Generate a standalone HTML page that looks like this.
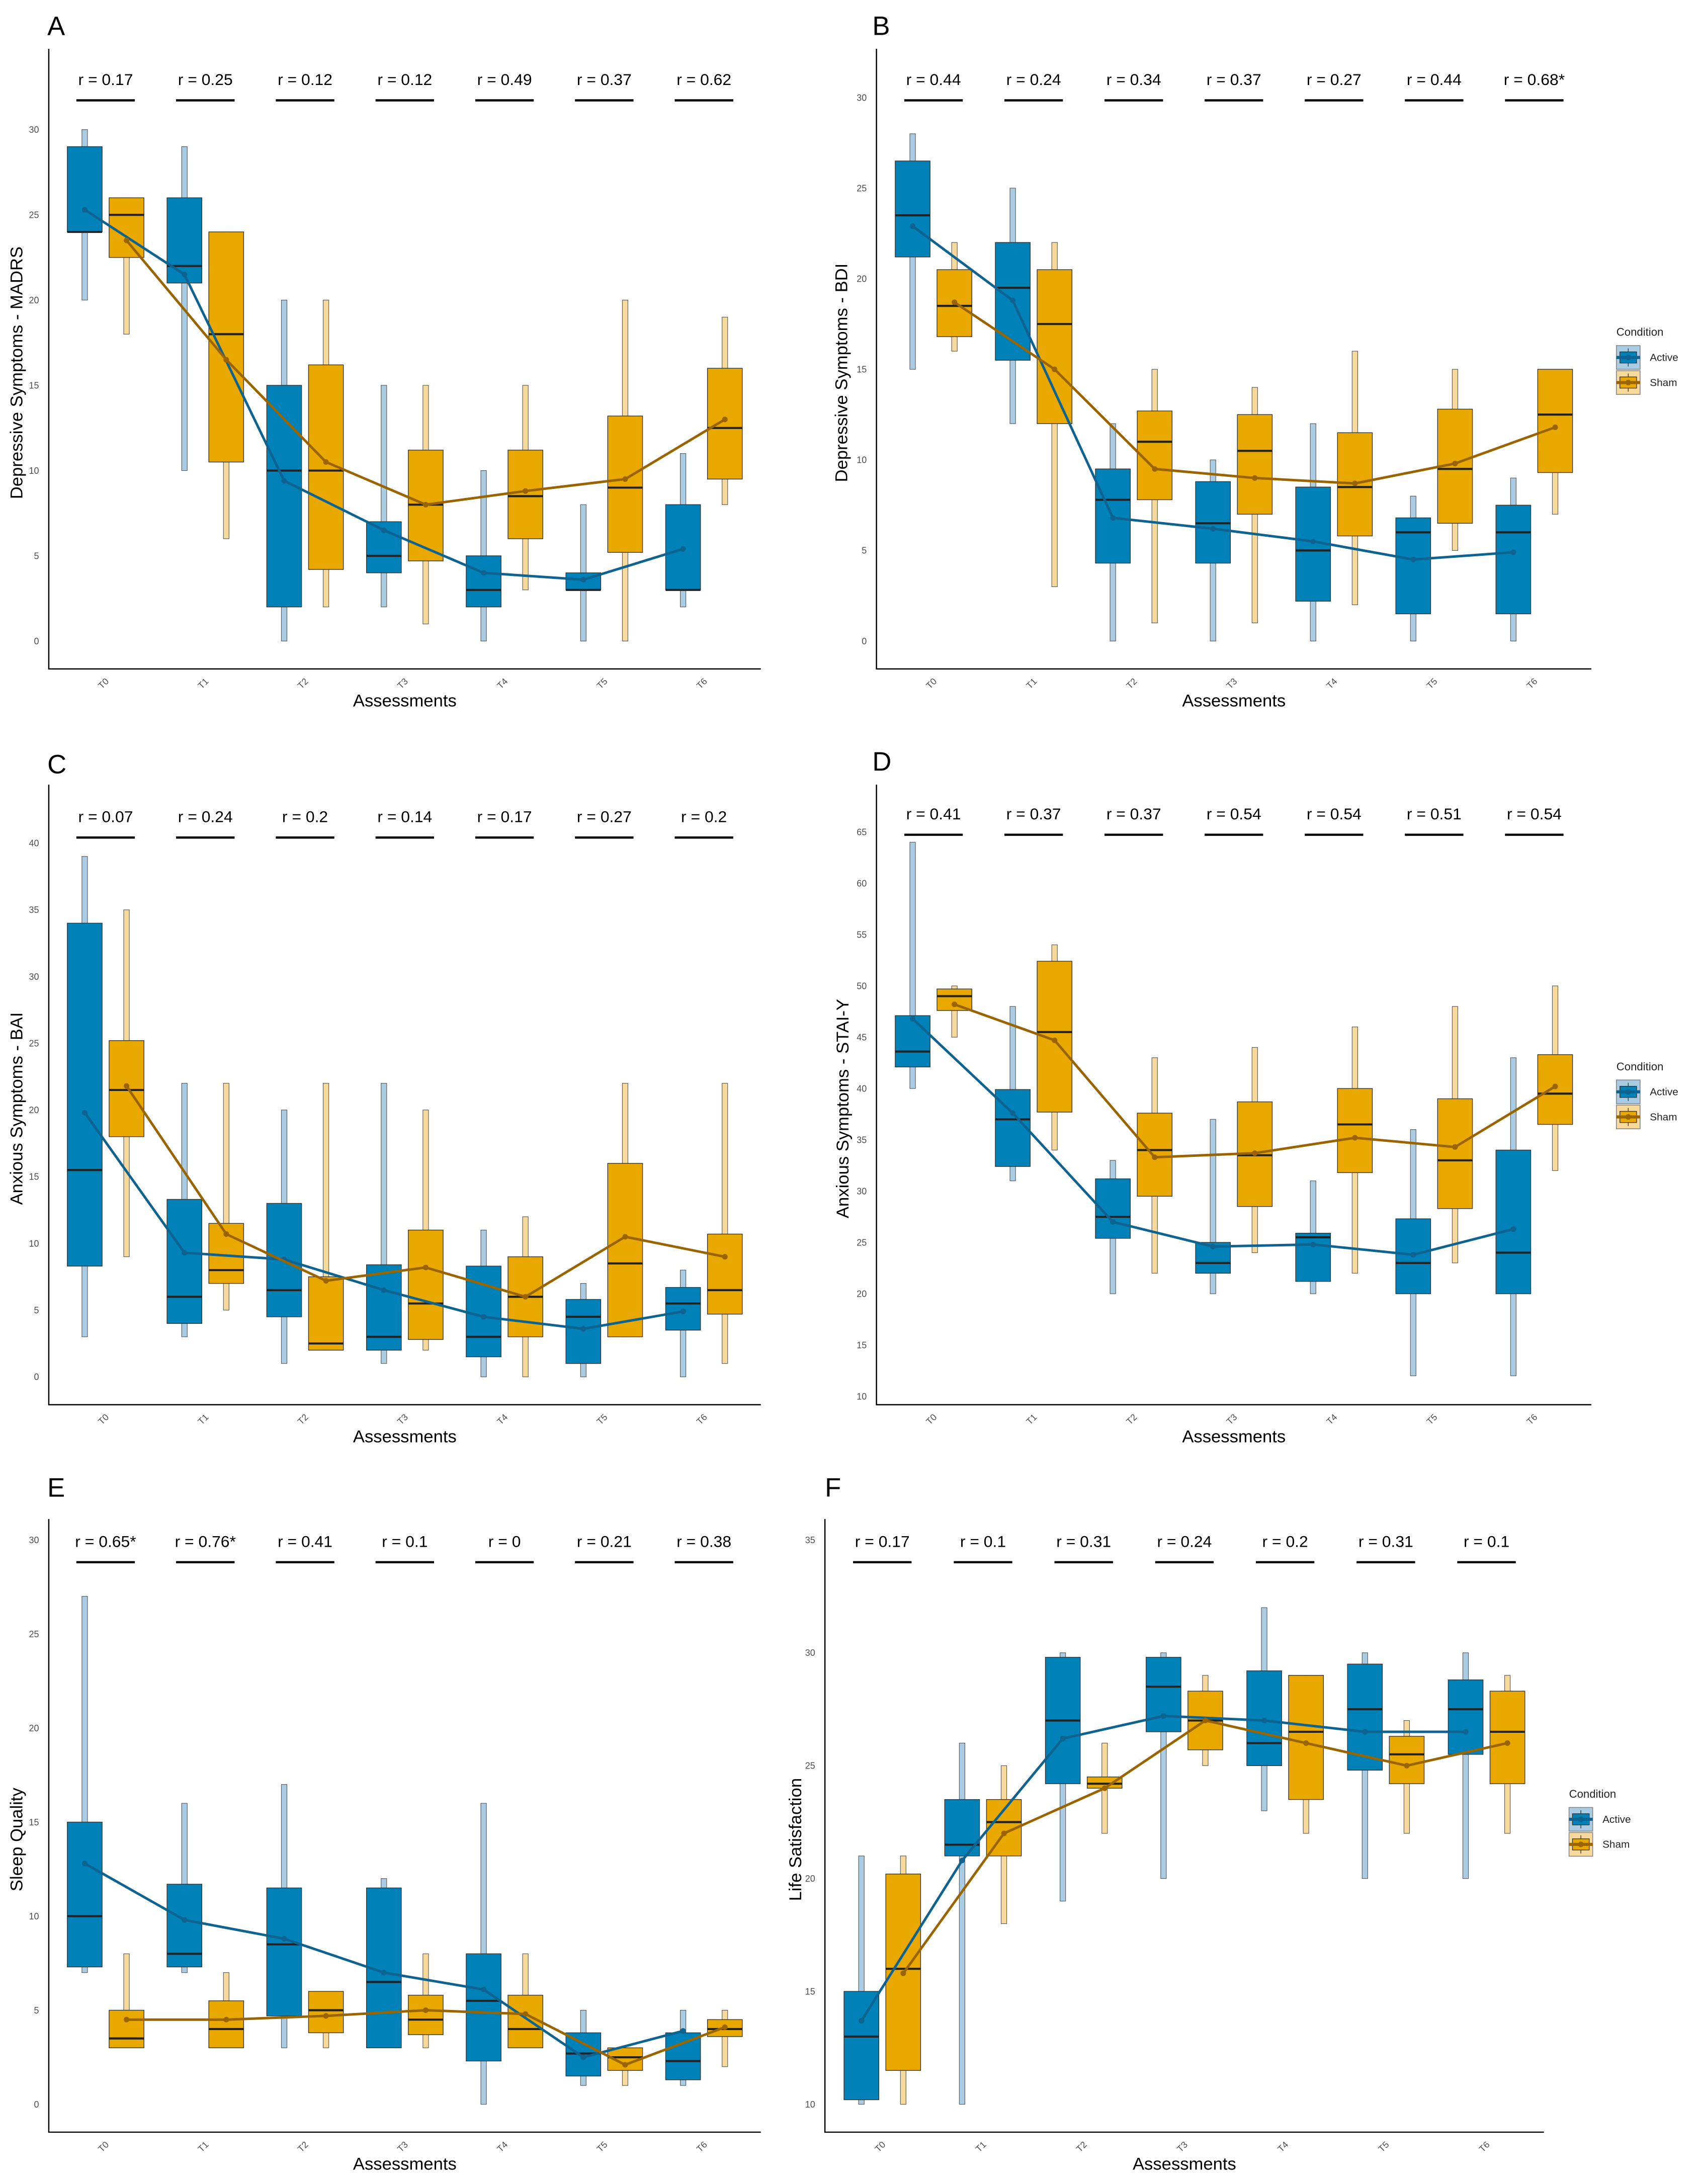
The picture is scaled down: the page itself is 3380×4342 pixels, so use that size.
<!DOCTYPE html>
<html><head><meta charset="utf-8"><style>
html,body{margin:0;padding:0;background:#fff;}
svg{display:block;font-family:"Liberation Sans",sans-serif;}
</style></head><body>
<svg id="fig" width="3380" height="4342" viewBox="0 0 1220 1567.2" preserveAspectRatio="none" xmlns="http://www.w3.org/2000/svg"></svg>
<script>
const cats = ["T0","T1","T2","T3","T4","T5","T6"];
// Panel A - MADRS
const aR = ["0.17","0.25","0.12","0.12","0.49","0.37","0.62"];
const aActBox = [[24,24,29],[21,22,26],[2,10,15],[4,5,7],[2,3,5],[3,3,4],[3,3,8]];
const aActVio = [[20,30],[10,29],[0,20],[2,15],[0,10],[0,8],[2,11]];
const aActMean = [25.3,21.5,9.4,6.5,4,3.6,5.4];
const aShBox = [[22.5,25,26],[10.5,18,24],[4.2,10,16.2],[4.7,8,11.2],[6,8.5,11.2],[5.2,9,13.2],[9.5,12.5,16]];
const aShVio = [[18,26],[6,24],[2,20],[1,15],[3,15],[0,20],[8,19]];
const aShMean = [23.5,16.5,10.5,8,8.8,9.5,13];
// Panel B - BDI
const bR = ["0.44","0.24","0.34","0.37","0.27","0.44","0.68*"];
const bActBox = [[21.2,23.5,26.5],[15.5,19.5,22],[4.3,7.8,9.5],[4.3,6.5,8.8],[2.2,5,8.5],[1.5,6,6.8],[1.5,6,7.5]];
const bActVio = [[15,28],[12,25],[0,12],[0,10],[0,12],[0,8],[0,9]];
const bActMean = [22.9,18.8,6.8,6.2,5.5,4.5,4.9];
const bShBox = [[16.8,18.5,20.5],[12,17.5,20.5],[7.8,11,12.7],[7,10.5,12.5],[5.8,8.5,11.5],[6.5,9.5,12.8],[9.3,12.5,15]];
const bShVio = [[16,22],[3,22],[1,15],[1,14],[2,16],[5,15],[7,15]];
const bShMean = [18.7,15,9.5,9,8.7,9.8,11.8];
// Panel C - BAI
const cR = ["0.07","0.24","0.2","0.14","0.17","0.27","0.2"];
const cActBox = [[8.3,15.5,34],[4,6,13.3],[4.5,6.5,13],[2,3,8.4],[1.5,3,8.3],[1,4.5,5.8],[3.5,5.5,6.7]];
const cActVio = [[3,39],[3,22],[1,20],[1,22],[0,11],[0,7],[0,8]];
const cActMean = [19.8,9.3,8.8,6.5,4.5,3.6,4.9];
const cShBox = [[18,21.5,25.2],[7,8,11.5],[2,2.5,7.5],[2.8,5.5,11],[3,6,9],[3,8.5,16],[4.7,6.5,10.7]];
const cShVio = [[9,35],[5,22],[2,22],[2,20],[0,12],[3,22],[1,22]];
const cShMean = [21.8,10.7,7.2,8.2,6,10.5,9];
// Panel D - STAI-Y
const dR = ["0.41","0.37","0.37","0.54","0.54","0.51","0.54"];
const dActBox = [[42.1,43.6,47.1],[32.4,37,39.9],[25.4,27.5,31.2],[22,23,25],[21.2,25.5,25.9],[20,23,27.3],[20,24,34]];
const dActVio = [[40,64],[31,48],[20,33],[20,37],[20,31],[12,36],[12,43]];
const dActMean = [46.8,37.6,27,24.6,24.8,23.8,26.3];
const dShBox = [[47.6,49,49.7],[37.7,45.5,52.4],[29.5,34,37.6],[28.5,33.5,38.7],[31.8,36.5,40],[28.3,33,39],[36.5,39.5,43.3]];
const dShVio = [[45,50],[34,54],[22,43],[24,44],[22,46],[23,48],[32,50]];
const dShMean = [48.2,44.7,33.3,33.7,35.2,34.3,40.2];
// Panel E - Sleep
const eR = ["0.65*","0.76*","0.41","0.1","0","0.21","0.38"];
const eActBox = [[7.3,10,15],[7.3,8,11.7],[4.7,8.5,11.5],[3,6.5,11.5],[2.3,5.5,8],[1.5,2.7,3.8],[1.3,2.3,3.8]];
const eActVio = [[7,27],[7,16],[3,17],[3,12],[0,16],[1,5],[1,5]];
const eActMean = [12.8,9.8,8.8,7,6.1,2.5,3.9];
const eShBox = [[3,3.5,5],[3,4,5.5],[3.8,5,6],[3.7,4.5,5.8],[3,4,5.8],[1.8,2.5,3],[3.6,4,4.5]];
const eShVio = [[3,8],[3,7],[3,6],[3,8],[3,8],[1,3],[2,5]];
const eShMean = [4.5,4.5,4.7,5,4.8,2.1,4.1];
// Panel F - Life Satisfaction
const fR = ["0.17","0.1","0.31","0.24","0.2","0.31","0.1"];
const fActBox = [[10.2,13,15],[21,21.5,23.5],[24.2,27,29.8],[26.5,28.5,29.8],[25,26,29.2],[24.8,27.5,29.5],[25.5,27.5,28.8]];
const fActVio = [[10,21],[10,26],[19,30],[20,30],[23,32],[20,30],[20,30]];
const fActMean = [13.7,20.8,26.2,27.2,27,26.5,26.5];
const fShBox = [[11.5,16,20.2],[21,22.5,23.5],[24,24.2,24.5],[25.7,27,28.3],[23.5,26.5,29],[24.2,25.5,26.3],[24.2,26.5,28.3]];
const fShVio = [[10,21],[18,25],[22,26],[25,29],[22,29],[22,27],[22,29]];
const fShMean = [15.8,22,24,27,26,25,26];

const NS="http://www.w3.org/2000/svg";
const svg=document.getElementById('fig');
function mk(tag,attrs,parent){const e=document.createElementNS(NS,tag);for(const k in attrs)e.setAttribute(k,attrs[k]);(parent||svg).appendChild(e);return e;}
const C={actBox:"#0081b8",actVio:"#a9cce3",actLine:"#0e6390",shBox:"#e9a800",shVio:"#f7d99b",shLine:"#9a6400"};

function panel(cfg){
  const g=mk('g',{});
  
  
  const {x0,x1,yTop,yBot,v0,v1,p0,p1}=cfg;
  const ys=v=>p0+(v-v0)*(p1-p0)/(v1-v0);
  const step=(x1-x0)/7.14;
  const xc=i=>x0+step*(0.57+i);
  const off=15, bw=25, vw=4;
  const L=mk('text',{x:cfg.lx,y:cfg.ly,'font-size':19,fill:'#000'},g);L.textContent=cfg.letter;
  
  const ax=mk('path',{d:`M${x0},${yTop} V${yBot} H${x1}`,stroke:'#000','stroke-width':0.9,fill:'none'},g);
  
  for(let v=cfg.t0;v<=cfg.t1;v+=5){
    const t=mk('text',{x:x0-7,y:ys(v)+2.3,'font-size':6.5,fill:'#4d4d4d','text-anchor':'end'},g);t.textContent=v;
    
  }
  const yt=mk('text',{x:0,y:0,'font-size':12.5,fill:'#000','text-anchor':'middle',transform:`translate(${cfg.ytx},${(yTop+yBot)/2+10}) rotate(-90)`},g);yt.textContent=cfg.ytitle;
  
  const xt=mk('text',{x:(x0+x1)/2,y:yBot+27,'font-size':12.5,fill:'#000','text-anchor':'middle'},g);xt.textContent='Assessments';
  
  cats.forEach((c,i)=>{
    const t=mk('text',{x:0,y:0,'font-size':6.5,fill:'#4d4d4d','text-anchor':'middle',transform:`translate(${xc(i)},${yBot+12}) rotate(-45)`},g);t.textContent=c;
    
    const r=mk('text',{x:xc(i),y:cfg.ry,'font-size':11.5,fill:'#000','text-anchor':'middle'},g);r.textContent='r = '+cfg.r[i];
    
    const u=mk('line',{x1:xc(i)-21,x2:xc(i)+21,y1:cfg.ry+11,y2:cfg.ry+11,stroke:'#000','stroke-width':1.6},g);
    
  });
  function series(box,vio,mean,dx,fb,fv,fl,name){
    cats.forEach((c,i)=>{
      const cx=xc(i)+dx;
      const v=mk('rect',{x:cx-vw/2,y:ys(vio[i][1]),width:vw,height:ys(vio[i][0])-ys(vio[i][1]),fill:fv,stroke:'#555','stroke-width':0.4},g);
      
      const b=mk('rect',{x:cx-bw/2,y:ys(box[i][2]),width:bw,height:ys(box[i][0])-ys(box[i][2]),fill:fb,stroke:'#333','stroke-width':0.5},g);
      
      const m=mk('line',{x1:cx-bw/2,x2:cx+bw/2,y1:ys(box[i][1]),y2:ys(box[i][1]),stroke:'#222','stroke-width':1.5},g);
      
    });
    return ()=>{
      const pts=mean.map((m,i)=>`${xc(i)+dx},${ys(m)}`).join(' ');
      const pl=mk('polyline',{points:pts,fill:'none',stroke:fl,'stroke-width':1.8},g);
      
      mean.forEach((m,i)=>{const d=mk('circle',{cx:xc(i)+dx,cy:ys(m),r:2,fill:fl},g);
        });
    };
  }
  const la=series(cfg.ab,cfg.av,cfg.am,-off,C.actBox,C.actVio,C.actLine,'active');
  const ls=series(cfg.sb,cfg.sv,cfg.sm,off,C.shBox,C.shVio,C.shLine,'sham');
  la();ls();
  if(cfg.leg){
    const [lx,ly]=cfg.leg;
    const lg=mk('g',{},g);
    const t=mk('text',{x:lx,y:ly,'font-size':8,fill:'#222'},lg);t.textContent='Condition';
    [['Active',C.actVio,C.actBox,C.actLine],['Sham',C.shVio,C.shBox,C.shLine]].forEach((e,k)=>{
      const y=ly+7+k*18;
      const en=mk('g',{},lg);
      mk('rect',{x:lx,y:y,width:17,height:17,fill:e[1],stroke:'#888','stroke-width':0.6},en);
      mk('line',{x1:lx+8.5,x2:lx+8.5,y1:y+2,y2:y+15,stroke:'#333','stroke-width':0.5},en);
      mk('rect',{x:lx+2.5,y:y+4.5,width:12,height:8,fill:e[2],stroke:'#333','stroke-width':0.5},en);
      mk('line',{x1:lx,x2:lx+17,y1:y+8.5,y2:y+8.5,stroke:e[3],'stroke-width':2.2},en);
      mk('circle',{cx:lx+8.5,cy:y+8.5,r:2,fill:e[3]},en);
      const tt=mk('text',{x:lx+24,y:y+11,'font-size':7.5,fill:'#222'},en);tt.textContent=e[0];
    });
  }
}
panel({letter:'A',lx:34,ly:25,x0:35,x1:546,yTop:35,yBot:480,v0:0,v1:30,p0:460,p1:93,t0:0,t1:30,ytx:16,ytitle:'Depressive Symptoms - MADRS',ry:61,r:aR,ab:aActBox,av:aActVio,am:aActMean,sb:aShBox,sv:aShVio,sm:aShMean});
panel({letter:'B',lx:626,ly:25,x0:629,x1:1142,yTop:35,yBot:480,v0:0,v1:30,p0:460,p1:70,t0:0,t1:30,ytx:608,ytitle:'Depressive Symptoms - BDI',ry:61,r:bR,ab:bActBox,av:bActVio,am:bActMean,sb:bShBox,sv:bShVio,sm:bShMean,leg:[1160,241]});
panel({letter:'C',lx:34,ly:555,x0:35,x1:546,yTop:563,yBot:1008,v0:0,v1:40,p0:988,p1:605,t0:0,t1:40,ytx:16,ytitle:'Anxious Symptoms - BAI',ry:590,r:cR,ab:cActBox,av:cActVio,am:cActMean,sb:cShBox,sv:cShVio,sm:cShMean});
panel({letter:'D',lx:626,ly:553,x0:629,x1:1142,yTop:563,yBot:1008,v0:10,v1:65,p0:1002,p1:597,t0:10,t1:65,ytx:609,ytitle:'Anxious Symptoms - STAI-Y',ry:588,r:dR,ab:dActBox,av:dActVio,am:dActMean,sb:dShBox,sv:dShVio,sm:dShMean,leg:[1160,768]});
panel({letter:'E',lx:34,ly:1074,x0:35,x1:546,yTop:1090,yBot:1530,v0:0,v1:30,p0:1510,p1:1105,t0:0,t1:30,ytx:16,ytitle:'Sleep Quality',ry:1110,r:eR,ab:eActBox,av:eActVio,am:eActMean,sb:eShBox,sv:eShVio,sm:eShMean});
panel({letter:'F',lx:592,ly:1074,x0:592,x1:1108,yTop:1090,yBot:1530,v0:10,v1:35,p0:1510,p1:1105,t0:10,t1:35,ytx:575,ytitle:'Life Satisfaction',ry:1110,r:fR,ab:fActBox,av:fActVio,am:fActMean,sb:fShBox,sv:fShVio,sm:fShMean,leg:[1126,1290]});
</script>
</body></html>
